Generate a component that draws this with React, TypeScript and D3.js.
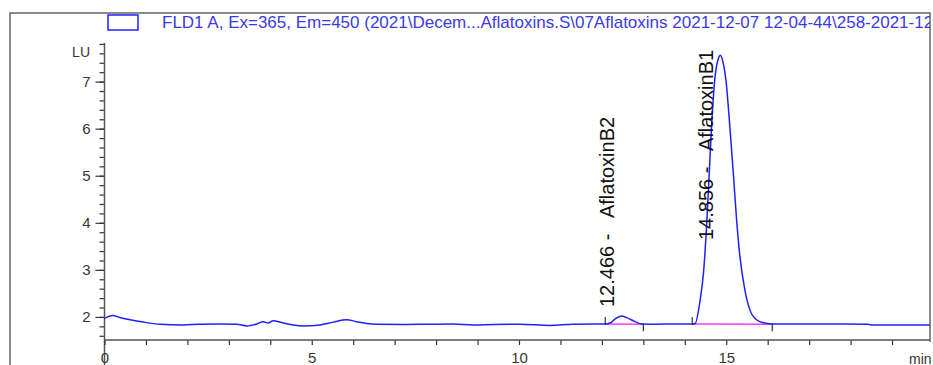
import React, { useEffect, useRef } from 'react';
import * as d3 from 'd3';

// chromatogram trace (min, LU)
const signalTime = [
  0.0, 0.2, 0.37, 0.62, 0.94, 1.34, 1.9, 2.3, 2.79, 3.19, 3.43, 3.67, 3.83, 3.95, 4.07, 4.27,
  4.55, 4.8, 5.2, 5.52, 5.84, 6.08, 6.33, 6.57, 7.2, 7.8, 8.4, 8.9, 9.4, 10.0, 10.75, 11.3,
  11.8, 12.08, 12.2, 12.32, 12.48, 12.64, 12.8, 12.96, 13.3, 13.8, 14.2, 14.25, 14.37, 14.45,
  14.53, 14.59, 14.65, 14.73, 14.81, 14.86, 14.92, 15.0, 15.08, 15.17, 15.25, 15.33, 15.45,
  15.57, 15.73, 15.93, 16.13, 17.0, 17.8, 18.4, 18.5, 19.2, 19.95
];
const signalLU = [
  1.97, 2.03, 1.99, 1.94, 1.89, 1.845, 1.83, 1.845, 1.85, 1.845, 1.81, 1.85, 1.9, 1.87, 1.92, 1.88,
  1.83, 1.81, 1.83, 1.89, 1.94, 1.9, 1.86, 1.845, 1.84, 1.845, 1.85, 1.83, 1.84, 1.845, 1.82, 1.845,
  1.85, 1.85, 1.87, 1.96, 2.02, 1.97, 1.9, 1.85, 1.845, 1.85, 1.85, 1.86, 2.36, 2.93,
  4.0, 5.06, 6.12, 7.1, 7.49, 7.56, 7.42, 6.97, 6.12, 5.06, 4.06, 3.28, 2.57,
  2.15, 1.94, 1.87, 1.85, 1.85, 1.85, 1.845, 1.83, 1.83, 1.83
];

// integrated peaks
const peakNames = ['AflatoxinB2', 'AflatoxinB1'];
const peakRT = ['12.466', '14.856'];
const peakStart = [12.08, 14.18];
const peakEnd = [13.0, 16.11];
const peakBaseStart = [1.85, 1.85];
const peakBaseEnd = [1.845, 1.845];
const peakLabelY = [307, 240];

const yMajorTicks = [2, 3, 4, 5, 6, 7];
const xMajorTicks = [0, 5, 10, 15];
const legendText = 'FLD1 A, Ex=365, Em=450 (2021\\Decem...Aflatoxins.S\\07Aflatoxins 2021-12-07 12-04-44\\258-2021-12-07.D)';

const W = 933, H = 365;
const font = '"Liberation Sans", Arial, sans-serif';
const traceColor = '#2020ff';

function App() {
  const ref = useRef<SVGSVGElement>(null);

  useEffect(() => {
    const svg = d3.select(ref.current);
    svg.selectAll('*').remove();

    const frame = { left: 10, top: 13, right: 930 };
    const plot = { left: 104.5, bottom: 340 };

    const x = d3.scaleLinear().domain([0, 20]).range([plot.left, plot.left + 41.45 * 20]);
    const y = d3.scaleLinear().domain([1.51, 7.82]).range([plot.bottom, 43]);

    svg.append('defs').append('clipPath').attr('id', 'frameclip')
      .append('rect').attr('x', frame.left).attr('y', 0)
      .attr('width', frame.right - frame.left).attr('height', H);

    // frame
    svg.append('path')
      .attr('d', `M${frame.left},${H} V${frame.top} H${frame.right} V${plot.bottom + 2}`)
      .attr('fill', 'none').attr('stroke', '#666').attr('stroke-width', 1.5);

    // legend
    svg.append('rect')
      .attr('x', 108).attr('y', 15).attr('width', 30).attr('height', 15)
      .attr('fill', 'none').attr('stroke', traceColor).attr('stroke-width', 1.5);
    svg.append('text')
      .attr('clip-path', 'url(#frameclip)')
      .attr('x', 162).attr('y', 28)
      .attr('fill', '#3a3ae8')
      .style('font-family', font).style('font-size', '17px')
      .text(legendText);

    // y axis
    const yAxis = svg.append('g').attr('transform', `translate(${plot.left},0)`);
    yAxis.call(d3.axisLeft(y).tickValues(d3.range(1.6, 7.81, 0.2)).tickSize(5).tickFormat(() => ''));
    yAxis.select('.domain').remove();
    const yMajor = svg.append('g').attr('transform', `translate(${plot.left},0)`);
    yMajor.call(d3.axisLeft(y).tickValues(yMajorTicks).tickSize(9).tickPadding(5).tickFormat(d3.format('d')));
    yMajor.select('.domain').remove();
    yMajor.selectAll('text').style('font-size', '15px').style('font-family', font).attr('fill', '#3a3530');
    svg.selectAll('.tick line').attr('stroke', '#333').attr('stroke-width', 1.2);
    svg.append('line')
      .attr('x1', plot.left).attr('x2', plot.left).attr('y1', 43).attr('y2', H)
      .attr('stroke', '#555').attr('stroke-width', 1.5);
    svg.append('text')
      .attr('x', 90).attr('y', 57).attr('text-anchor', 'end')
      .attr('fill', '#3a3530')
      .style('font-family', font).style('font-size', '14px')
      .text('LU');

    // x axis
    const xAxis = svg.append('g').attr('transform', `translate(0,${plot.bottom})`);
    xAxis.call(d3.axisBottom(x).tickValues(d3.range(0, 20, 1)).tickSize(5).tickPadding(7)
      .tickFormat(d => (xMajorTicks.includes(+d) ? String(d) : '')));
    xAxis.select('.domain').remove();
    xAxis.selectAll('line').attr('stroke', '#333').attr('stroke-width', 1.2);
    xAxis.selectAll('text').style('font-size', '15px').style('font-family', font).attr('fill', '#3a3530');
    svg.append('line')
      .attr('x1', plot.left).attr('x2', frame.right).attr('y1', plot.bottom).attr('y2', plot.bottom)
      .attr('stroke', '#555').attr('stroke-width', 1.5);
    svg.append('text')
      .attr('x', 909).attr('y', 364)
      .attr('fill', '#3a3530')
      .style('font-family', font).style('font-size', '14px')
      .text('min');

    const pts = signalTime.map((t, i) => [t, signalLU[i]] as [number, number]);
    const g = svg.append('g').attr('clip-path', 'url(#frameclip)');

    // integration baselines
    peakNames.forEach((_, i) => {
      g.append('line')
        .attr('x1', x(peakStart[i])).attr('x2', x(peakEnd[i]))
        .attr('y1', y(peakBaseStart[i])).attr('y2', y(peakBaseEnd[i]))
        .attr('stroke', '#ff3cff').attr('stroke-width', 1.5);
    });

    g.append('path')
      .datum(pts)
      .attr('fill', 'none')
      .attr('stroke', traceColor)
      .attr('stroke-width', 1.5)
      .attr('d', d3.line<[number, number]>()
        .x(d => x(d[0]))
        .y(d => y(d[1]))
        .curve(d3.curveMonotoneX));

    // peak start/end markers + labels
    peakNames.forEach((name, i) => {
      const ys = y(peakBaseStart[i]), ye = y(peakBaseEnd[i]);
      g.append('line')
        .attr('x1', x(peakStart[i])).attr('x2', x(peakStart[i]))
        .attr('y1', ys - 7).attr('y2', ys + 1)
        .attr('stroke', '#333').attr('stroke-width', 1.2);
      g.append('line')
        .attr('x1', x(peakEnd[i])).attr('x2', x(peakEnd[i]))
        .attr('y1', ye - 1).attr('y2', ye + 7)
        .attr('stroke', '#333').attr('stroke-width', 1.2);

      const lx = x(+peakRT[i]) - 7;
      svg.append('text')
        .attr('transform', `translate(${lx},${peakLabelY[i]}) rotate(-90)`)
        .attr('fill', '#111')
        .style('font-family', font).style('font-size', '20px')
        .style('white-space', 'pre')
        .text(`${peakRT[i]} -   ${name}`);
    });
  }, []);

  return (
    <svg ref={ref} width={W} height={H}
      style={{ position: 'absolute', left: 0, top: 0, background: '#fff', display: 'block' }} />
  );
}

export default App;
